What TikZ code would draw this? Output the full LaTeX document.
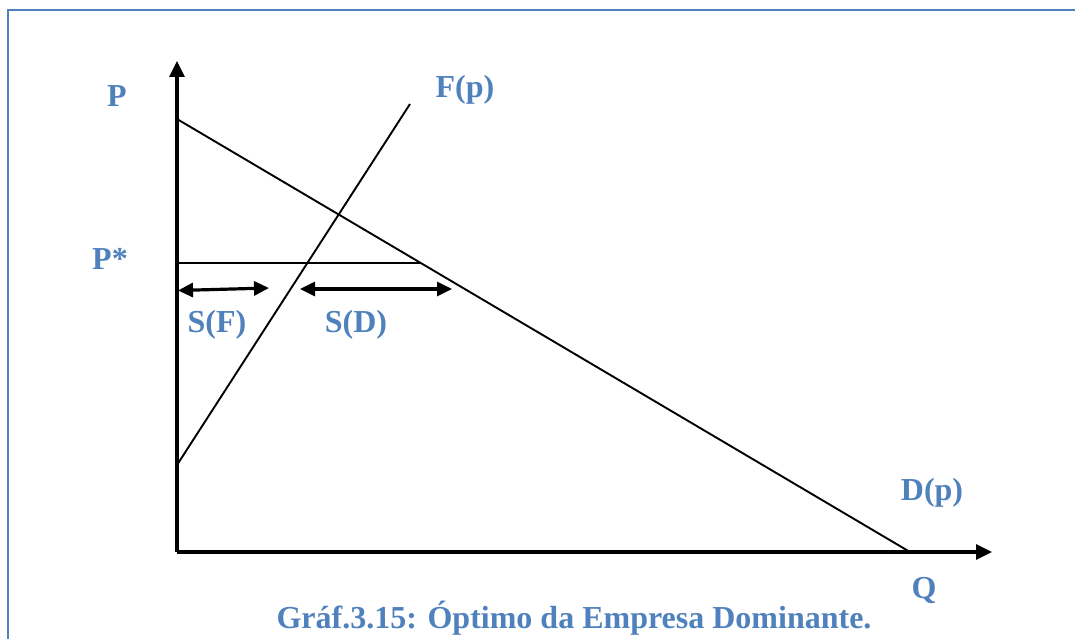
\documentclass[tikz,border=0pt]{standalone}
\usepackage{fontspec}
\setmainfont{Liberation Serif}
\usetikzlibrary{arrows.meta}
\definecolor{lblblue}{RGB}{79,129,189}
\tikzset{
  lbl/.style={text=lblblue, font=\fontsize{32}{38}\selectfont\bfseries, inner sep=0pt, anchor=base},
  axisline/.style={line width=3.2pt, -{Triangle[length=16pt,width=15pt]}},
  curve/.style={line width=1.9pt},
  span/.style={line width=3.2pt, {Triangle[length=15pt,width=14pt]}-{Triangle[length=15pt,width=14pt]}},
  frameline/.style={draw=lblblue, line width=1.8pt}
}
\begin{document}
\begin{tikzpicture}[x=1pt,y=-1pt]
  \useasboundingbox (0,0) rectangle (1075,639);
  % frame
  \draw[frameline] (8,650) -- (8,10) -- (1085,10);

  % key points
  \coordinate (O) at (177,552);
  \coordinate (Ytip) at (177,61);
  \coordinate (Xtip) at (992,552);
  \coordinate (Dtop) at (177,119);
  \coordinate (Dbot) at (910,552);
  \coordinate (Fbot) at (177,465);
  \coordinate (Ftop) at (410,104);
  \coordinate (Pstar) at (177,263);
  \coordinate (PD) at (421,263);
  \coordinate (SFa) at (178,290.5);
  \coordinate (SFb) at (269,288);
  \coordinate (SDa) at (300,289);
  \coordinate (SDb) at (452,289);

  % axes
  \draw[axisline] (O) -- (Ytip);
  \draw[axisline] (O) -- (Xtip);

  % demand and fringe supply
  \draw[curve] (Dtop) -- (Dbot);
  \draw[curve] (Fbot) -- (Ftop);
  \draw[curve] (Pstar) -- (PD);

  % quantity spans
  \draw[span] (SFa) -- (SFb);
  \draw[span] (SDa) -- (SDb);

  % labels
  \node[lbl] (lP) at (117,107) {P};
  \node[lbl] (lF) at (465,98) {F(p)};
  \node[lbl] (lPs) at (110,269) {P*};
  \node[lbl] (lSF) at (217,332) {S(F)};
  \node[lbl] (lSD) at (356,332) {S(D)};
  \node[lbl] (lD) at (932,500) {D(p)};
  \node[lbl] (lQ) at (924,598) {Q};
  \node[lbl] (cap) at (574,628) {Gráf.3.15: Óptimo da Empresa Dominante.};
\end{tikzpicture}
\end{document}
